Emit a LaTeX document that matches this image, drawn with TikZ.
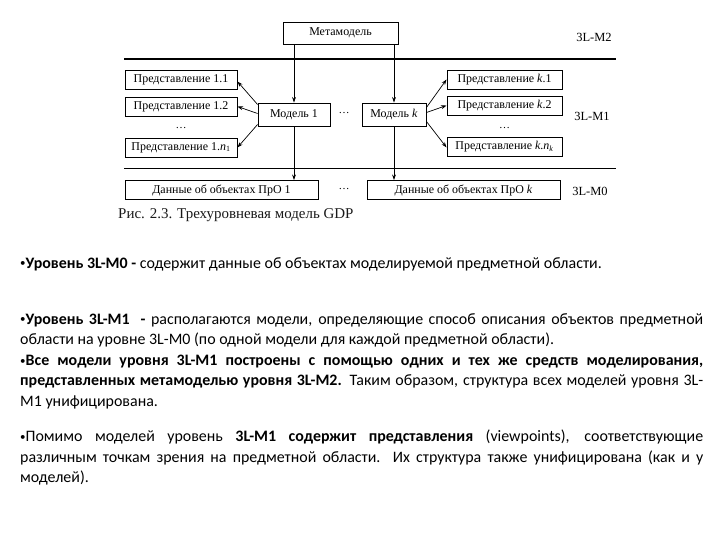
\documentclass[tikz,border=0pt]{standalone}
\usepackage{fontspec}
\setmainfont{Liberation Serif}
\newfontfamily\calib{Carlito}
\usetikzlibrary{arrows.meta,calc}
\newcommand{\smbul}{\raisebox{1.2pt}{\fontsize{11}{11}\selectfont•}}
\begin{document}
\begin{tikzpicture}[x=1bp,y=-1bp,
  box/.style={draw, line width=0.9pt, inner sep=0pt, minimum height=19bp, font=\fontsize{12}{13}\selectfont},
  arr/.style={-{Stealth[length=5.5bp,width=3.8bp]}, line width=0.7pt},
  lvl/.style={font=\fontsize{12.5}{14}\selectfont, inner sep=0pt},
  dots/.style={font=\fontsize{11}{13}\selectfont, inner sep=0pt},
  para/.style={anchor=north west, inner sep=0pt, text width=683bp, align=justify,
     font=\calib\fontsize{16}{20.3}\selectfont}]
\useasboundingbox[fill=white] (0,0) rectangle (720,540);

% separator lines
\coordinate (l1a) at (124,59);  \coordinate (l1b) at (616,59);
\coordinate (l2a) at (124,168); \coordinate (l2b) at (616,168);
\draw[line width=1.6pt] (l1a) -- (l1b);
\draw[line width=0.9pt] (l2a) -- (l2b);

% level M2
\node[box, minimum width=115bp, minimum height=22bp] (meta) at (340.5,33) {Метамодель};
\node[lvl] (lm2) at (594,37) {3L-M2};

% level M1 - left
\node[box, minimum width=112bp] (r11) at (181,79.5) {Представление 1.1};
\node[box, minimum width=112bp] (r12) at (181,106.5) {Представление 1.2};
\node[dots] (dl) at (181,128) {\dots};
\node[box, minimum width=112bp] (r1n) at (181,147.5) {Представление 1.\textit{n}\textsubscript{1}};
\node[box, minimum width=72bp, minimum height=23bp] (m1) at (294,114.5) {Модель 1};
\node[dots] (dm) at (344,113) {\dots};
\node[box, minimum width=64bp, minimum height=23bp] (mk) at (394,114.5) {Модель \textit{k}};
\node[box, minimum width=115bp] (rk1) at (504.5,79.5) {Представление \textit{k}.1};
\node[box, minimum width=115bp] (rk2) at (504.5,105.5) {Представление \textit{k}.2};
\node[dots] (dr) at (504.5,128) {\dots};
\node[box, minimum width=115bp] (rkn) at (504.5,146.5) {Представление \textit{k}.\textit{n}\textsubscript{\textit{k}}};
\node[lvl] (lm1) at (592,116) {3L-M1};

% level M0
\node[box, minimum width=193bp] (d1) at (221.5,190) {Данные об объектах ПрО 1};
\node[dots] (dd) at (344,189) {\dots};
\node[box, minimum width=193bp] (dk) at (463.5,190) {Данные об объектах ПрО \textit{k}};
\node[lvl] (lm0) at (590,191) {3L-M0};

% arrows
\draw[arr] (meta.south -| m1.north) -- (m1.north);
\draw[arr] (meta.south -| mk.north) -- (mk.north);
\draw[arr] (m1.south) -- (m1.south |- d1.north);
\draw[arr] (mk.south) -- (mk.south |- dk.north);
\draw[arr] ($(m1.west)+(0,-10)$) -- ($(r11.east)+(0,2)$);
\draw[arr] ($(m1.west)+(0,-1)$) -- (r12.east);
\draw[arr] ($(m1.west)+(0,10)$) -- (r1n.east);
\draw[arr] ($(mk.east)+(0,-7)$) -- (rk1.west);
\draw[arr] ($(mk.east)+(0,-2)$) -- (rk2.west);
\draw[arr] ($(mk.east)+(0,7)$) -- ($(rkn.west)+(0,1)$);

% caption
\node[anchor=base west, inner sep=0pt, font=\fontsize{15}{17}\selectfont, text=black!90] (cap) at (118,219) {Рис. 2.3. Трехуровневая модель GDP};

% paragraphs
\node[para] (p1) at (20,257) {\smbul\textbf{Уровень 3L-M0 -} содержит данные об объектах моделируемой предметной области.};
\node[para] (p2) at (20,313) {\smbul\textbf{Уровень 3L-M1\ \ -} располагаются модели, определяющие способ описания объектов предметной области на уровне 3L-M0 (по одной модели для каждой предметной области).};
\node[para] (p3) at (20,355) {\smbul\textbf{Все модели уровня 3L-M1 построены с помощью одних и тех же средств моделирования, представленных метамоделью уровня 3L-M2.} Таким образом, структура всех моделей уровня 3L-M1 унифицирована.};
\node[para] (p4) at (20,430) {\smbul Помимо моделей уровень \textbf{3L-M1 содержит представления} (viewpoints), соответствующие различным точкам зрения на предметной области. Их структура также унифицирована (как и у моделей).};
\end{tikzpicture}
\end{document}
